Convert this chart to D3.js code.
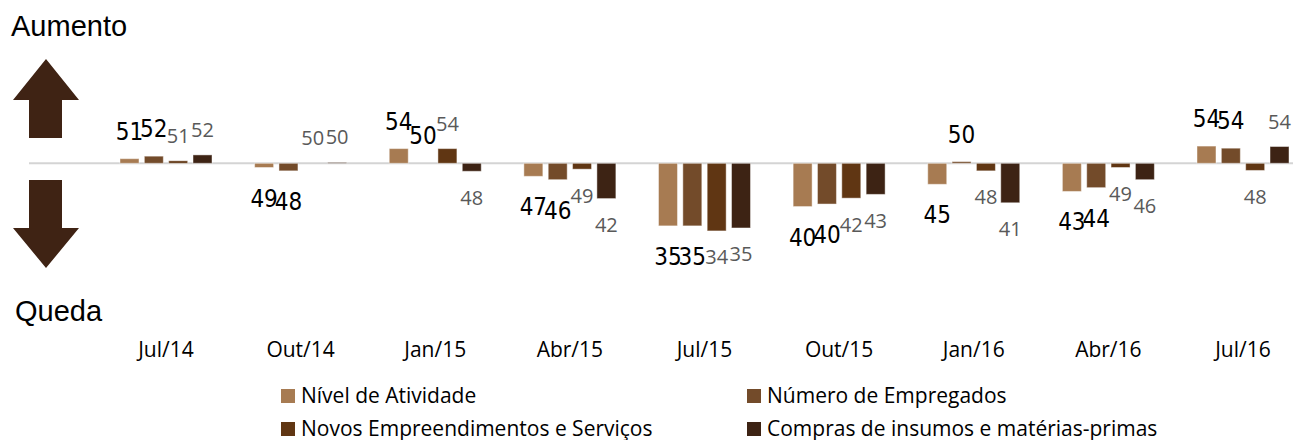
<html>
<head>
<meta charset="utf-8">
<title>Sondagem</title>
<script src="https://d3js.org/d3.v7.min.js"></script>
<style>
  body { margin: 0; background: #fff; }
  svg { display: block; }
  .side { font-family: "Liberation Sans", Arial, sans-serif; font-size: 29px; fill: #000; }
  .tick-label { font-family: "Open Sans", sans-serif; font-size: 21px; fill: #000; }
  .legend-text { font-family: "Open Sans", sans-serif; font-size: 21px; fill: #000; }
  .lbl-big { font-family: "Liberation Sans Narrow", "DejaVu Sans Condensed", sans-serif; font-size: 24px; fill: #000; }
  .lbl-small { font-family: "Open Sans", sans-serif; font-size: 20px; fill: #595959; }
</style>
</head>
<body>
<svg id="chart" width="1299" height="440"></svg>
<script>
// chart data
var periods = ["Jul/14", "Out/14", "Jan/15", "Abr/15", "Jul/15", "Out/15", "Jan/16", "Abr/16", "Jul/16"];
var seriesNames = ["Nível de Atividade", "Número de Empregados", "Novos Empreendimentos e Serviços", "Compras de insumos e matérias-primas"];
var nivelAtividade = [51.1, 49.0, 53.5, 46.9, 35.1, 39.7, 45.0, 43.3, 54.1];
var numeroEmpregados = [51.7, 48.2, 50.0, 46.1, 35.1, 40.3, 50.4, 44.2, 53.6];
var novosEmpreendimentos = [50.6, 50.0, 53.5, 48.6, 33.9, 41.7, 48.2, 49.0, 48.3];
var comprasInsumos = [52.0, 50.2, 48.1, 41.6, 34.6, 42.6, 40.6, 46.1, 54.0];
var colors = ["#a77b52", "#734b2a", "#603613", "#3d2314"];

var allSeries = [nivelAtividade, numeroEmpregados, novosEmpreendimentos, comprasInsumos];

var svg = d3.select("#chart");

var x0 = d3.scalePoint().domain(periods).range([166, 1243]);
var x1 = d3.scaleBand().domain(d3.range(4)).range([-46, 46]).paddingInner(0.22);
var y = d3.scaleLinear().domain([30, 60]).range([247.3, 121.3]);

// neutral line at 50
svg.append("line")
  .attr("x1", 29).attr("x2", 1293)
  .attr("y1", y(50)).attr("y2", y(50))
  .attr("stroke", "#d4d4d4").attr("stroke-width", 2);

var cells = [];
periods.forEach(function (p, i) {
  allSeries.forEach(function (s, j) {
    cells.push({ period: p, series: j, value: s[i] });
  });
});

svg.append("g").selectAll("rect")
  .data(cells)
  .enter()
  .append("rect")
  .attr("x", d => x0(d.period) + x1(d.series))
  .attr("width", x1.bandwidth())
  .attr("y", d => Math.min(y(d.value), y(50)))
  .attr("height", d => Math.abs(y(d.value) - y(50)))
  .attr("fill", d => colors[d.series])
  .attr("stroke", "rgba(255,255,255,0.45)")
  .attr("stroke-width", 1);

// value labels: first two series black, last two grey
svg.append("g").selectAll("text")
  .data(cells)
  .enter()
  .append("text")
  .attr("class", d => d.series < 2 ? "lbl-big" : "lbl-small")
  .attr("text-anchor", "middle")
  .attr("x", d => x0(d.period) + x1(d.series) + x1.bandwidth() / 2)
  .attr("y", function (d) {
    var big = d.series < 2;
    if (d.value >= 50) return y(d.value) - (big ? 19 : 18);
    return y(d.value) + (big ? 39 : 33.5);
  })
  .text(d => Math.round(d.value));

// category labels
svg.append("g").selectAll("text")
  .data(periods)
  .enter()
  .append("text")
  .attr("class", "tick-label")
  .attr("text-anchor", "middle")
  .attr("x", d => x0(d))
  .attr("y", 357)
  .text(d => d);

// arrows
var arrowColor = "#3f2314";
svg.append("path")
  .attr("d", "M13,100 L46,59 L79,100 L62,100 L62,138 L29,138 L29,100 Z")
  .attr("fill", arrowColor);
svg.append("path")
  .attr("d", "M29,180 L62,180 L62,228 L79,228 L46,268 L13,228 L29,228 Z")
  .attr("fill", arrowColor);

svg.append("text").attr("class", "side").attr("x", 11).attr("y", 36).text("Aumento");
svg.append("text").attr("class", "side").attr("x", 15).attr("y", 321).text("Queda");

// legend
var legendPos = [[281, 389], [747, 389], [281, 422], [747, 422]];
var legend = svg.append("g").selectAll("g")
  .data(seriesNames)
  .enter()
  .append("g")
  .attr("transform", (d, i) => "translate(" + legendPos[i][0] + "," + legendPos[i][1] + ")");
legend.append("rect")
  .attr("width", 14).attr("height", 14)
  .attr("fill", (d, i) => colors[i]);
legend.append("text")
  .attr("class", "legend-text")
  .attr("x", 20)
  .attr("y", 14)
  .text(d => d);
</script>
</body>
</html>
